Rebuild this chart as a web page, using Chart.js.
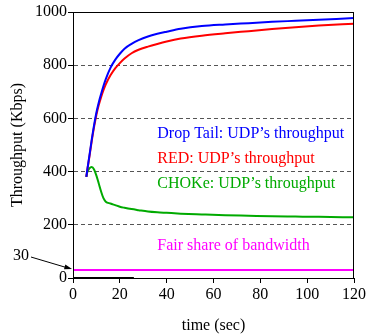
<!DOCTYPE html>
<html>
<head>
<meta charset="utf-8">
<script src="https://cdn.jsdelivr.net/npm/chart.js@4.4.1/dist/chart.umd.min.js"></script>
<style>
html, body { margin: 0; padding: 0; background: #fff; }
#wrap { width: 368px; height: 335px; }
</style>
</head>
<body>
<div id="wrap"><canvas id="ChartUdp"></canvas></div>
<script>
// tiempos (sec) y throughput (Kbps)
const tiempo   = [5.7, 6, 7, 8, 9, 10, 11, 12, 13, 14, 16, 18, 20, 22, 25, 28, 32, 36, 40, 46, 55, 65, 75, 85, 95, 105, 120];
const dropTail = [380, 400, 460, 520, 575, 622, 660, 692, 722, 748, 790, 820, 843, 862, 880, 894, 908, 918, 926, 937, 947, 953, 958, 963, 967, 971, 977];
const redQ     = [380, 400, 455, 515, 568, 614, 650, 680, 706, 728, 762, 788, 808, 825, 845, 858, 870, 880, 889, 900, 911, 920, 928, 936, 943, 949, 956];
const choke    = [380, 395, 412, 417, 408, 385, 355, 325, 300, 287, 280, 274, 268, 264, 259, 255, 250, 247, 245, 242, 239, 236, 234, 232, 231, 230, 228];
const tiempoJusto = [0, 120];
const justo       = [30, 30];
const tiempoCero  = [0, 26];
const cero        = [0, 0];

const ticksX = [0, 20, 40, 60, 80, 100, 120];
const ticksY = [0, 200, 400, 600, 800, 1000];

const etiquetas = [
    { texto: 'Drop Tail: UDP\u2019s throughput', color: '#0000ff', x: 36, y: 541 },
    { texto: 'RED: UDP\u2019s throughput', color: '#ff0000', x: 36, y: 448 },
    { texto: 'CHOKe: UDP\u2019s throughput', color: '#00aa00', x: 36, y: 356 },
    { texto: 'Fair share of bandwidth', color: '#ff00ff', x: 36, y: 122 }
];

const FUENTE = "'Liberation Serif', 'Times New Roman', serif";

const puntos = (xs, ys) => xs.map((x, i) => ({ x: x, y: ys[i] }));

const marco = {
    id: 'marco',
    afterDatasetsDraw(chart) {
        const { ctx, chartArea: a, scales } = chart;
        ctx.save();
        ctx.strokeStyle = '#000';
        ctx.lineWidth = 1;
        ctx.strokeRect(a.left + 0.5, a.top + 0.5, a.right - a.left - 1, a.bottom - a.top);

        ctx.font = '16px ' + FUENTE;
        ctx.textBaseline = 'middle';
        ctx.textAlign = 'left';
        etiquetas.forEach(e => {
            ctx.fillStyle = e.color;
            ctx.fillText(e.texto, scales.x.getPixelForValue(e.x), scales.y.getPixelForValue(e.y));
        });

        // flecha "30"
        const px = scales.x.getPixelForValue(0) - 1;
        const py = scales.y.getPixelForValue(30) - 1;
        const sx = 31, sy = py - 12;
        ctx.strokeStyle = '#000';
        ctx.fillStyle = '#000';
        ctx.beginPath();
        ctx.moveTo(sx, sy);
        ctx.lineTo(px - 4, py - 1);
        ctx.stroke();
        const ang = Math.atan2(py - sy, px - sx);
        ctx.beginPath();
        ctx.moveTo(px, py);
        ctx.lineTo(px - 8 * Math.cos(ang - 0.3), py - 8 * Math.sin(ang - 0.3));
        ctx.lineTo(px - 8 * Math.cos(ang + 0.3), py - 8 * Math.sin(ang + 0.3));
        ctx.closePath();
        ctx.fill();
        ctx.textAlign = 'right';
        ctx.fillText('30', 29, sy - 1);
        ctx.restore();
    }
};

const ctx = document.getElementById('ChartUdp').getContext('2d');

const linea = (label, data, color) => ({
    label: label, data: data, borderColor: color, borderWidth: 2,
    pointRadius: 0, cubicInterpolationMode: 'monotone'
});

new Chart(ctx, {
    type: 'line',
    data: {
        datasets: [
            linea('Drop Tail', puntos(tiempo, dropTail), '#0000ff'),
            linea('RED', puntos(tiempo, redQ), '#ff0000'),
            linea('CHOKe', puntos(tiempo, choke), '#00aa00'),
            linea('Fair share', puntos(tiempoJusto, justo), '#ff00ff'),
            linea('cero', puntos(tiempoCero, cero), '#000')
        ]
    },
    options: {
        responsive: true,
        maintainAspectRatio: false,
        animation: false,
        layout: { padding: { top: 12, right: 11, bottom: 0, left: 0 } },
        plugins: { legend: { display: false }, tooltip: { enabled: false } },
        scales: {
            x: {
                type: 'linear',
                min: 0, max: 120,
                afterFit: s => { s.height = 57; },
                afterBuildTicks: s => { s.ticks = ticksX.map(v => ({ value: v })); },
                ticks: { color: '#000', font: { family: FUENTE, size: 16 }, padding: 2, maxRotation: 0, callback: v => String(v) },
                grid: { drawOnChartArea: false, tickLength: 5, tickColor: '#000' },
                border: { color: '#000' },
                title: { display: true, text: 'time (sec)', color: '#000', font: { family: FUENTE, size: 16 }, padding: { top: 4, bottom: 0 } }
            },
            y: {
                min: 0, max: 1000,
                afterFit: s => { s.width = 73; },
                afterBuildTicks: s => { s.ticks = ticksY.map(v => ({ value: v })); },
                ticks: { color: '#000', font: { family: FUENTE, size: 16 }, padding: 1, callback: v => String(v) },
                grid: {
                    color: c => (c.tick && (c.tick.value === 0 || c.tick.value === 1000)) ? 'rgba(0,0,0,0)' : '#555',
                    tickBorderDash: [],
                    tickColor: '#000',
                    tickLength: 5
                },
                border: { color: '#000', dash: [4, 3] },
                title: { display: true, text: 'Throughput (Kbps)', color: '#000', font: { family: FUENTE, size: 16 }, padding: { top: 8, bottom: 0 } }
            }
        }
    },
    plugins: [marco]
});
</script>
</body>
</html>
